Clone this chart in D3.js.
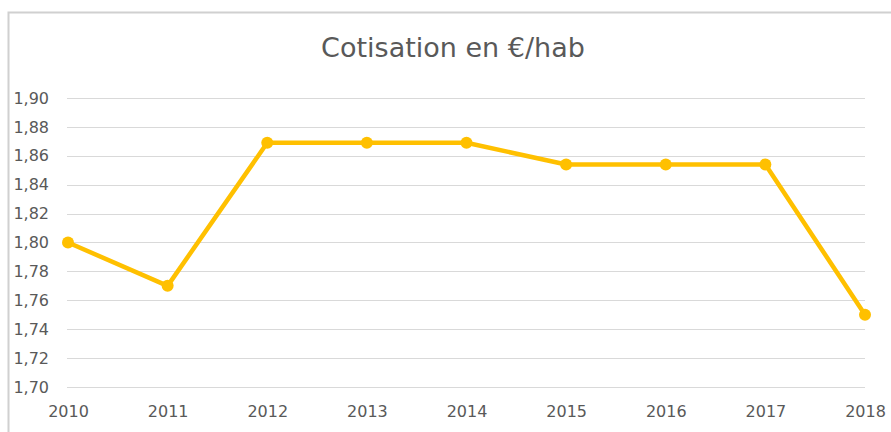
<!DOCTYPE html>
<html>
<head>
<meta charset="utf-8">
<script src="https://cdn.jsdelivr.net/npm/d3@7"></script>
<style>
  html, body { margin: 0; padding: 0; background: #ffffff; }
  svg { display: block; }
  text { font-family: "DejaVu Sans", sans-serif; fill: #595959; }
</style>
</head>
<body>
<svg id="chart" width="891" height="432"></svg>
<script>
const title = "Cotisation en €/hab";
const years = ["2010", "2011", "2012", "2013", "2014", "2015", "2016", "2017", "2018"];
const values = [1.80, 1.77, 1.869, 1.869, 1.869, 1.854, 1.854, 1.854, 1.75];
const yTicks = [1.70, 1.72, 1.74, 1.76, 1.78, 1.80, 1.82, 1.84, 1.86, 1.88, 1.90];

const svg = d3.select("#chart");
const W = 891, H = 432;
const margin = { left: 68, right: 26, top: 98, bottom: 45 };

// chart frame
svg.append("rect")
  .attr("x", 8.5).attr("y", 12.5)
  .attr("width", W + 10).attr("height", H + 10)
  .attr("fill", "#ffffff")
  .attr("stroke", "#d0d0d0").attr("stroke-width", 2);

const x = d3.scalePoint().domain(years).range([margin.left, W - margin.right]);
const y = d3.scaleLinear().domain([1.70, 1.90]).range([H - margin.bottom, margin.top]);

const fmt = v => d3.format(".2f")(v).replace(".", ",");

// gridlines
svg.append("g")
  .selectAll("line")
  .data(yTicks)
  .join("line")
  .attr("x1", margin.left - 1).attr("x2", W - margin.right)
  .attr("y1", d => Math.round(y(d)) + 0.5).attr("y2", d => Math.round(y(d)) + 0.5)
  .attr("stroke", "#d9d9d9").attr("stroke-width", 1);

// y axis labels
const yAxis = d3.axisLeft(y).tickValues(yTicks).tickFormat(fmt).tickSize(0).tickPadding(0);
const gy = svg.append("g").attr("transform", "translate(49,0)").call(yAxis);
gy.select(".domain").remove();
gy.selectAll("text")
  .attr("font-family", "DejaVu Sans, sans-serif")
  .attr("font-size", 16).attr("fill", "#595959");

// x axis labels
const xAxis = d3.axisBottom(x).tickSize(0).tickPadding(0);
const gx = svg.append("g").attr("transform", `translate(0,${H - margin.bottom + 19})`).call(xAxis);
gx.select(".domain").remove();
gx.selectAll("text")
  .attr("font-family", "DejaVu Sans, sans-serif")
  .attr("font-size", 16).attr("fill", "#595959");

// line
const line = d3.line().x((d, i) => x(years[i])).y(d => y(d));
svg.append("path")
  .datum(values)
  .attr("d", line)
  .attr("fill", "none")
  .attr("stroke", "#FFC000")
  .attr("stroke-width", 4.5)
  .attr("stroke-linejoin", "round");

svg.append("g")
  .selectAll("circle")
  .data(values)
  .join("circle")
  .attr("cx", (d, i) => x(years[i]))
  .attr("cy", d => y(d))
  .attr("r", 6)
  .attr("fill", "#FFC000");

// title
svg.append("text")
  .attr("x", 453).attr("y", 57)
  .attr("text-anchor", "middle")
  .attr("font-size", 27)
  .text(title);
</script>
</body>
</html>
